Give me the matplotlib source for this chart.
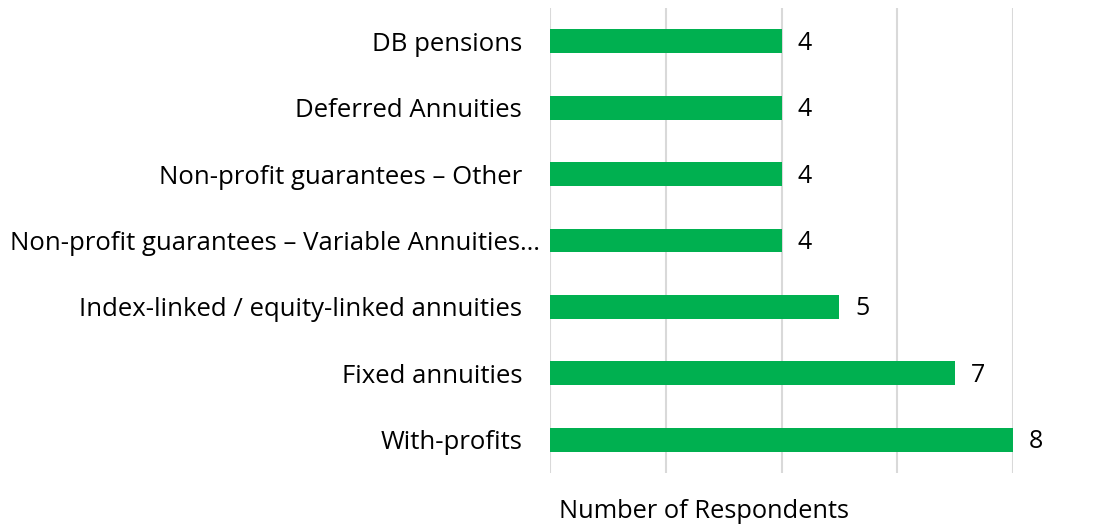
import matplotlib.pyplot as plt
import numpy as np

plt.rcParams['font.family'] = ['Open Sans', 'DejaVu Sans']

categories = ['DB pensions', 'Deferred Annuities', 'Non-profit guarantees \u2013 Other',
              'Non-profit guarantees \u2013 Variable Annuities\u2026',
              'Index-linked / equity-linked annuities', 'Fixed annuities', 'With-profits']
respondents = [4, 4, 4, 4, 5, 7, 8]
x_ticks = [0, 2, 4, 6, 8]

fig = plt.figure(figsize=(11.2, 5.31), dpi=100)
ax = fig.add_axes([550 / 1120, 58 / 531, 463 / 1120, 465 / 531])

y = np.arange(len(categories))
ax.barh(y, respondents, height=0.36, color='#00B050', zorder=3)
for yi, v in zip(y, respondents):
    ax.text(v + 0.27, yi + 0.03, str(v), va='center', ha='left', fontsize=18, color='#000000')

ax.set_ylim(len(categories) - 0.5, -0.5)
ax.set_xlim(0, 8)
ax.set_xticks(x_ticks)
ax.set_xticklabels([])
ax.set_yticks(y)
ax.set_yticklabels(categories, fontsize=18.5)
ax.tick_params(axis='both', length=0)
# truncated label sits closer to the axis than the others
for i, t in enumerate(ax.yaxis.get_major_ticks()):
    t.set_pad(7 if categories[i].endswith('\u2026') else 20)
ax.grid(axis='x', color='#D9D9D9', linewidth=1.5, zorder=0)
for s in ax.spines.values():
    s.set_visible(False)

fig.text(704 / 1120, 1 - 512 / 531, 'Number of Respondents', ha='center', va='center', fontsize=18.3)

fig.savefig('out.png', dpi=100)
